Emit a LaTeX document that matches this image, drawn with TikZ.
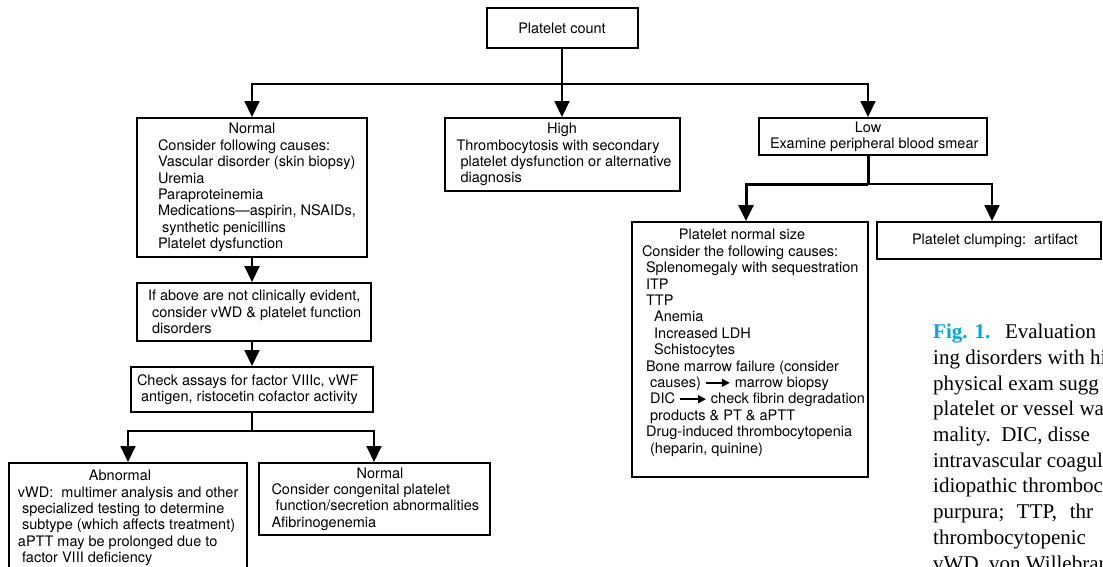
\documentclass[tikz,border=0pt]{standalone}
\usepackage{fontspec}
\setmainfont{TeX Gyre Heros}
\newfontfamily\capfont{Liberation Serif}
\usetikzlibrary{arrows.meta}
\definecolor{figblue}{RGB}{0,166,228}
\setlength{\parindent}{0pt}
\newcommand{\lsp}{\hspace*{.28em}}
\newcommand{\boxhead}[2][0pt]{\hspace*{-\leftskip}\hbox to\hsize{\hss#2\hspace*{#1}\hss}\par}
\newcommand{\txtarrow}[1]{\tikz[baseline=-0.33em]\draw[line width=1.8pt,-{Triangle[length=8pt,width=8pt]}] (0pt,0pt) -- (#1,0pt);}

\begin{document}
\begin{tikzpicture}[
        x=1pt, y=-1pt,
        >={Triangle[length=16pt,width=15pt]},
        textindent/.style={execute at begin node={\leftskip=#1\rightskip=0pt plus 1fill\spaceskip=0pt\xspaceskip=0pt\hyphenpenalty=10000\relax}},
        box/.style={
            rectangle,
            draw=black,
            line width=2pt,
            align=left,
            anchor=north,
            font=\fontsize{14.5}{16.4}\selectfont,
            inner xsep=0pt,
            inner ysep=3pt,
            textindent=0pt
        },
        arrow/.style={->, line width=2pt, draw=black}
    ]
    \useasboundingbox (0,0) rectangle (1103,566);

    \node[box, text width=151pt, minimum height=40pt] (count) at (562,7) {\boxhead{Platelet count}};

    \node[box, textindent=21pt, text width=230pt, minimum height=139pt] (normal) at (252,117) {\boxhead{Normal}
        Consider following causes:\\
        Vascular disorder (skin biopsy)\\
        Uremia\\
        Paraproteinemia\\
        Medications—aspirin, NSAIDs,\\
        \lsp synthetic penicillins\\
        Platelet dysfunction};
    \node[box, textindent=12pt, text width=235pt, minimum height=73pt] (high) at (562,117) {\boxhead{High}
        Thrombocytosis with secondary\\
        \lsp platelet dysfunction or alternative\\
        \lsp diagnosis};
    \node[box, textindent=11pt, text width=228pt, minimum height=37pt] (low) at (873,117) {\boxhead[10pt]{Low}
        Examine peripheral blood smear};

    \node[box, textindent=10pt, text width=236pt, minimum height=255pt] (normalsize) at (750,221) {\boxhead[16pt]{Platelet normal size}
        Consider the following causes:\\
        \lsp Splenomegaly with sequestration\\
        \lsp ITP\\
        \lsp TTP\\
        \lsp\lsp\lsp Anemia\\
        \lsp\lsp\lsp Increased LDH\\
        \lsp\lsp\lsp Schistocytes\\
        \lsp Bone marrow failure (consider\\
        \lsp\lsp causes) \txtarrow{24pt} marrow biopsy\\
        \lsp\lsp DIC \txtarrow{26pt} check fibrin degradation\\
        \lsp\lsp products \& PT \& aPTT\\
        \lsp Drug-induced thrombocytopenia\\
        \lsp\lsp (heparin, quinine)\\
        \mbox{}};
    \node[box, text width=224pt, minimum height=37pt] (clumping) at (989,221) {\boxhead{\hspace*{12pt}Platelet clumping:\ \ artifact}};

    \node[box, textindent=11pt, text width=234pt, minimum height=58pt] (notevident) at (254,282) {If above are not clinically evident,\\
        \lsp consider vWD \& platelet function\\
        \lsp disorders};
    \node[box, textindent=6pt, text width=242pt, minimum height=45pt] (assays) at (252,366) {Check assays for factor VIIIc, vWF\\
        \lsp antigen, ristocetin cofactor activity};

    \node[box, textindent=9pt, text width=238pt, minimum height=110pt] (abnormal) at (128,462) {\boxhead[16pt]{Abnormal}
        vWD:\ \ multimer analysis and other\\
        \lsp specialized testing to determine\\
        \lsp subtype (which affects treatment)\\
        aPTT may be prolonged due to\\
        \lsp factor VIII deficiency};
    \node[box, textindent=13pt, text width=231pt, minimum height=72pt] (congenital) at (374,462) {\boxhead{\hspace*{12pt}Normal}
        Consider congenital platelet\\
        \lsp function/secretion abnormalities\\
        Afibrinogenemia};

    \node[anchor=north west, inner sep=0pt, align=left,
        font=\capfont\fontsize{21}{25.7}\selectfont] (caption) at (933,324) {{\color{figblue}\bfseries Fig. 1.}\hspace{0.7em}Evaluation\\
        ing disorders with hi\\
        physical exam sugg\\
        platelet or vessel wa\\
        mality.\ \ DIC, disse\\
        intravascular coagula\\
        idiopathic thromboc\\
        purpura;\hspace{0.6em}TTP,\hspace{0.6em}thr\\
        thrombocytopenic\\
        vWD, von Willebrand};

    \coordinate (countsplit) at (562,84);
    \coordinate (lowsplit) at (868,184);
    \coordinate (assaysplit) at (252,431);

    \draw[line width=2pt] (count.south) -- (countsplit);
    \draw[arrow] (countsplit) -| (normal.north);
    \draw[arrow] (countsplit) -- (high.north);
    \draw[arrow] (countsplit) -| ([xshift=-5pt]low.north);

    \draw[line width=3pt] ([xshift=-5pt]low.south) -- (lowsplit);
    \draw[arrow, line width=3pt] (lowsplit) -| ([xshift=-4pt]normalsize.north);
    \draw[arrow] (lowsplit) -| ([xshift=3pt]clumping.north);

    \draw[arrow] (normal.south) -- (normal.south |- notevident.north);
    \draw[arrow] (notevident.south -| assays.north) -- (assays.north);

    \draw[line width=2pt] (assays.south) -- (assaysplit);
    \draw[arrow] (assaysplit) -| (abnormal.north);
    \draw[arrow] (assaysplit) -| (congenital.north);

\end{tikzpicture}
\end{document}
